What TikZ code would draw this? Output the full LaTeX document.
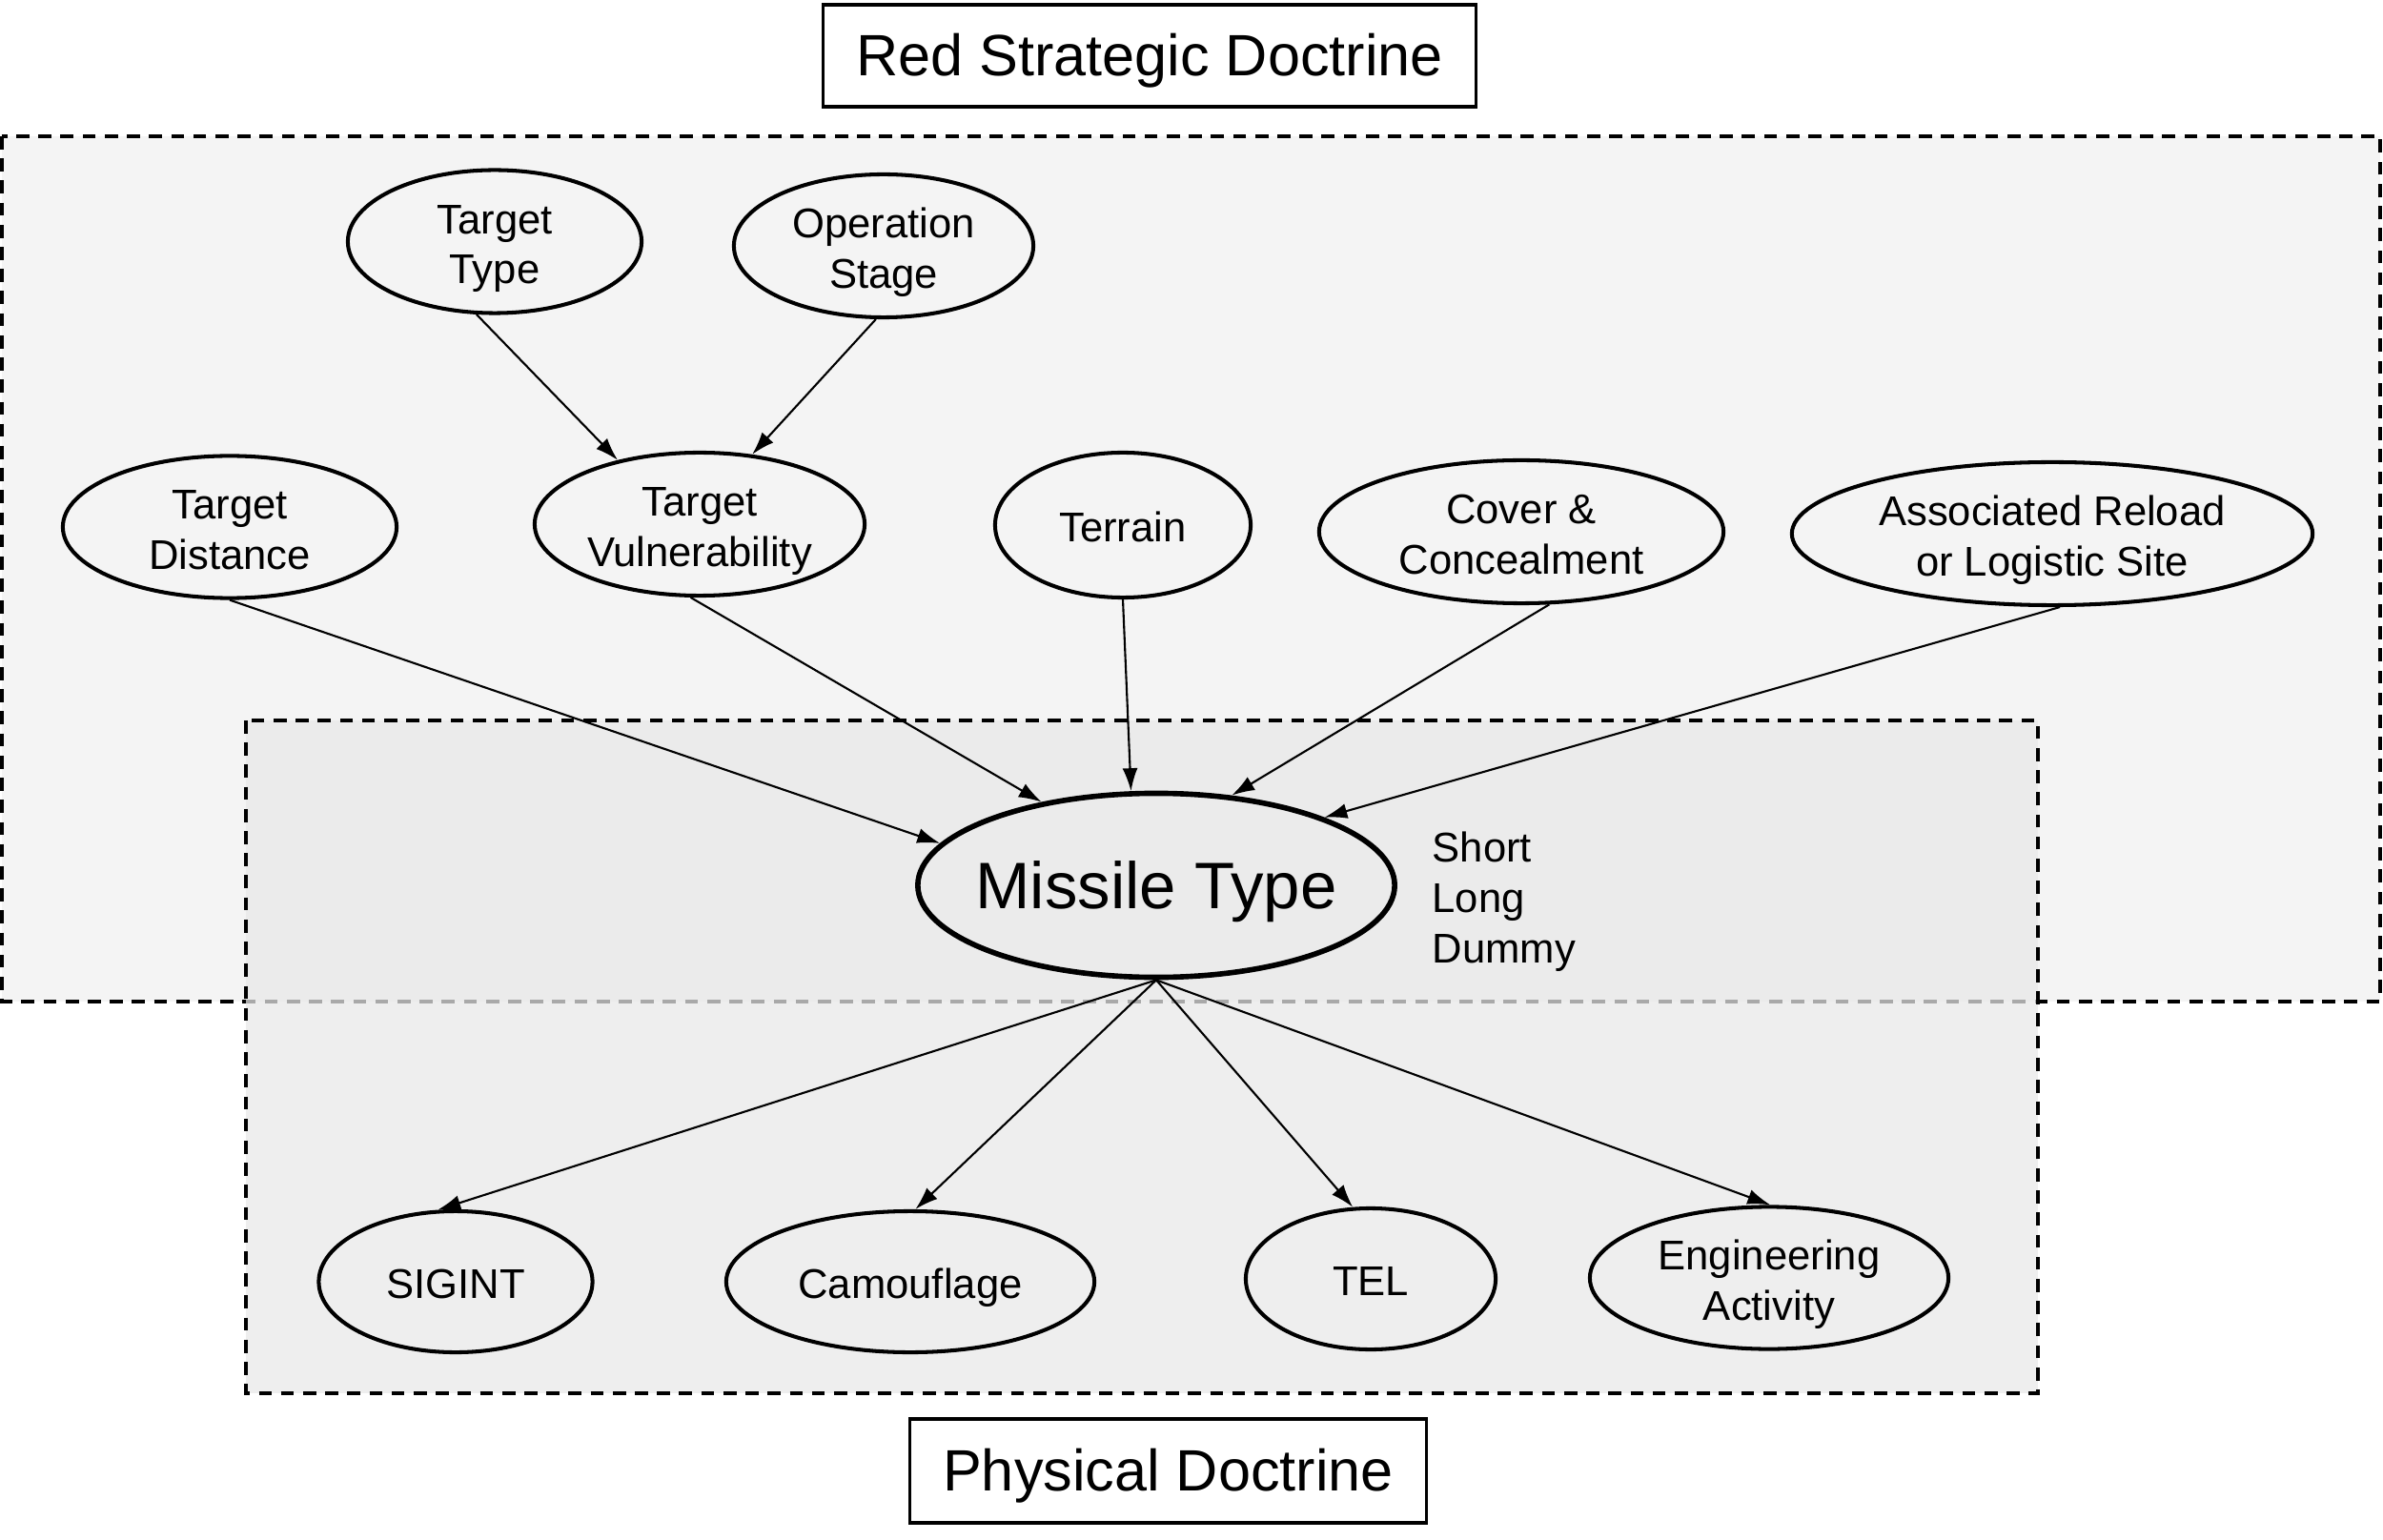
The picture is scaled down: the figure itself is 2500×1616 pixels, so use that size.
\documentclass[tikz,border=0pt]{standalone}
\usepackage{fontspec}
\setmainfont{Liberation Sans}
\usetikzlibrary{shapes.geometric,arrows.meta}
\definecolor{outerfill}{RGB}{244,244,244}
\definecolor{innerfill}{RGB}{233,233,233}
\newcommand\elbl[1]{\raisebox{-2.1pt}[\height][\depth]{\begin{tabular}{@{}c@{}}#1\end{tabular}}}
\newcommand\tlbl[1]{\raisebox{-1.4pt}[\height][\depth]{#1}}
\begin{document}
\begin{tikzpicture}[x=0.01cm,y=-0.01cm,
  ell/.style={ellipse,draw,line width=1.15pt,inner sep=0pt,font=\fontsize{12.4}{15}\selectfont},
  titlebox/.style={draw,line width=0.9pt,inner sep=0pt,font=\fontsize{17.4}{21}\selectfont},
  dbox/.style={dash pattern=on 3.9pt off 2.7pt,line width=0.9pt},
  edge/.style={-{Latex[length=2.4mm,width=1.6mm]},line width=0.6pt}]
\useasboundingbox (0,0) rectangle (2500,1616);
\fill[white] (0,0) rectangle (2500,1616);
% group boxes
\draw[dbox,fill=outerfill] (2,143) rectangle (2497,1051);
\fill[innerfill,fill opacity=0.73] (258,756) rectangle (2138,1462);
\draw[dbox] (258,756) rectangle (2138,1462);
% titles
\node[titlebox,minimum width=6.84cm,minimum height=1.07cm] (rsd) at (1206,58.5) {\tlbl{Red Strategic Doctrine}};
\node[titlebox,minimum width=5.41cm,minimum height=1.09cm] (phd) at (1225.5,1543.5) {\tlbl{Physical Doctrine}};
% nodes
\node[ell,minimum width=3.08cm,minimum height=1.50cm] (tt) at (519,253.5) {\elbl{Target\\Type}};
\node[ell,minimum width=3.14cm,minimum height=1.50cm] (os) at (927,258) {\elbl{Operation\\Stage}};
\node[ell,minimum width=3.50cm,minimum height=1.44cm] (td) at (241,553) {\elbl{Target\\Distance}};
\node[ell,minimum width=3.46cm,minimum height=1.50cm] (tv) at (734,550) {\elbl{Target\\Vulnerability}};
\node[ell,minimum width=2.68cm,minimum height=1.52cm] (ter) at (1178,551) {\elbl{Terrain}};
\node[ell,minimum width=4.24cm,minimum height=1.50cm] (cc) at (1596,558) {\elbl{Cover \&\\Concealment}};
\node[ell,minimum width=5.46cm,minimum height=1.50cm] (ar) at (2153,560) {\elbl{Associated Reload\\or Logistic Site}};
\node[ell,line width=1.6pt,minimum width=5.00cm,minimum height=1.93cm,font=\fontsize{19.6}{23}\selectfont] (mt) at (1213,929) {\makebox[2cm]{\raisebox{0pt}[14pt][0pt]{Missile Type}}};
\node[anchor=west,align=left,inner sep=0pt,font=\fontsize{12.4}{15}\selectfont] (sld) at (1502,946) {Short\\Long\\Dummy};
\node[ell,minimum width=2.87cm,minimum height=1.48cm] (sig) at (478,1345) {\elbl{SIGINT}};
\node[ell,minimum width=3.86cm,minimum height=1.48cm] (cam) at (955,1345) {\elbl{Camouflage}};
\node[ell,minimum width=2.62cm,minimum height=1.48cm] (tel) at (1438,1342) {\elbl{TEL}};
\node[ell,minimum width=3.76cm,minimum height=1.46cm] (eng) at (1856,1341) {\elbl{Engineering\\Activity}};
% edges
\draw[edge] (tt.-104) -- (tv.142);
\draw[edge] (os.-96) -- (tv.53);
\draw[edge] (td.south) -- (mt.169);
\draw[edge] (tv.-97) -- (mt.144);
\draw[edge] (ter.south) -- (mt.105);
\draw[edge] (cc.-69) -- (mt.50);
\draw[edge] (ar.-84) -- (mt.22);
\draw[edge] (mt.south) -- (sig.104);
\draw[edge] (mt.south) -- (cam.86);
\draw[edge] (mt.south) -- (tel.104);
\draw[edge] (mt.south) -- (eng.89);
\end{tikzpicture}
\end{document}
